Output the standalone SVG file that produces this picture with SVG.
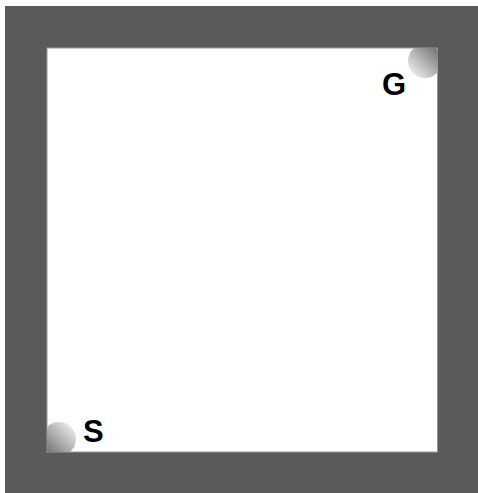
<svg xmlns="http://www.w3.org/2000/svg" width="478" height="493" viewBox="0 0 478 493">
<defs>
<linearGradient id="gG" x1="0.15" y1="0.85" x2="0.85" y2="0.15"><stop offset="0" stop-color="#e6e6e6"/><stop offset="1" stop-color="#777"/></linearGradient>
<linearGradient id="gS" x1="0.85" y1="0.15" x2="0.15" y2="0.85"><stop offset="0" stop-color="#e6e6e6"/><stop offset="1" stop-color="#777"/></linearGradient>
<clipPath id="inner"><rect x="47" y="48" width="390.5" height="404"/></clipPath>
<style>.lbl{font-family:"Liberation Sans",Arial,sans-serif;font-weight:bold;font-size:31px;fill:#000}</style>
</defs>
<rect x="0" y="0" width="478" height="493" fill="#fff"/>
<rect x="5" y="6" width="473" height="487" fill="#5a5a5a"/>
<rect x="47" y="48" width="390.5" height="404" fill="#fff" stroke="#999" stroke-width="1"/>
<g id="goal" clip-path="url(#inner)">
<circle cx="425" cy="61" r="17" fill="url(#gG)"/>
</g>
<text class="lbl" x="382" y="95">G</text>
<g id="start" clip-path="url(#inner)">
<circle cx="59" cy="439" r="17" fill="url(#gS)"/>
</g>
<text class="lbl" x="83" y="441.5">S</text>
<g id="connectors"/>
</svg>
